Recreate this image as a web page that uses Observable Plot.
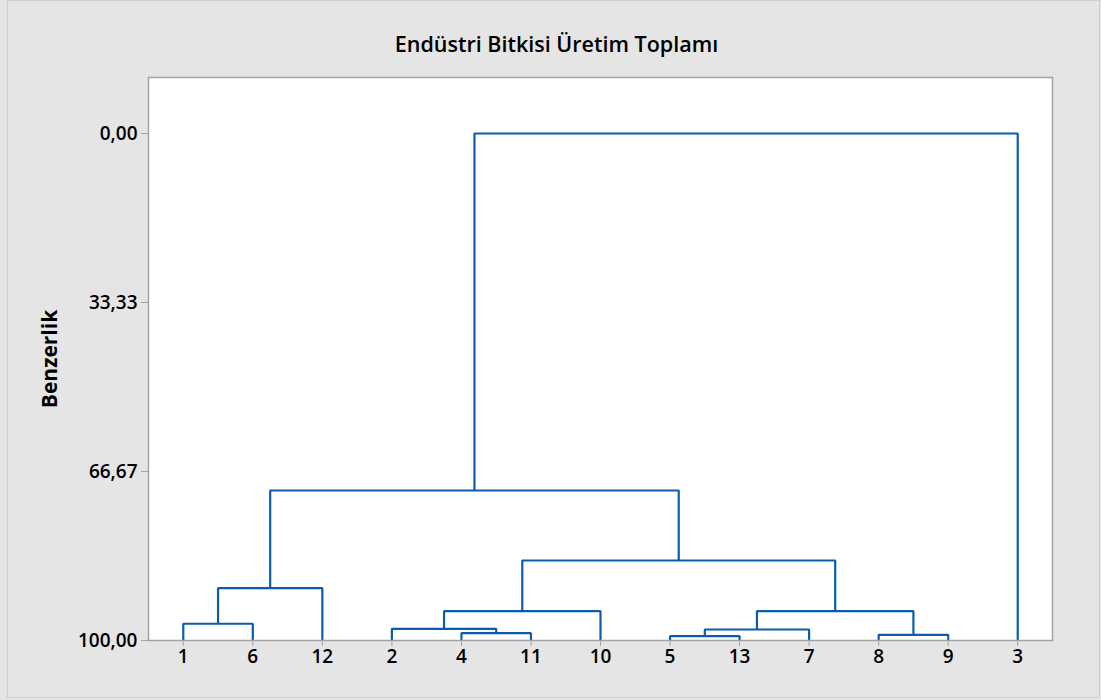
<!DOCTYPE html>
<html>
<head>
<meta charset="utf-8">
<script src="https://cdn.jsdelivr.net/npm/d3@7"></script>
<script src="https://cdn.jsdelivr.net/npm/@observablehq/plot@0.6"></script>
<style>
  html, body { margin: 0; padding: 0; background: #e5e5e5; }
  #chart { width: 1101px; height: 700px; position: relative; }
  svg { font-family: "Open Sans", "Noto Sans", sans-serif; }
</style>
</head>
<body>
<div id="chart"></div>
<script>
// ---- Data ----
const title = "Endüstri Bitkisi Üretim Toplamı";
const yLabel = "Benzerlik";
// leaf observations in dendrogram order (x axis tick labels)
const leaves = ["1", "6", "12", "2", "4", "11", "10", "5", "13", "7", "8", "9", "3"];
// merge steps: Ck = cluster made by step k
const mergeLeft  = ["5",  "8",  "4",  "C0", "2",  "1",  "C4", "C3", "C5", "C6", "C8", "C10"];
const mergeRight = ["13", "9",  "11", "7",  "C2", "6",  "10", "C1", "12", "C7", "C9", "3"];
const mergeSimilarity = [99.15, 98.88, 98.56, 97.83, 97.69, 96.70, 94.22, 94.22, 89.68, 84.22, 70.41, 0.00];
// y ticks
const yTickValues = [0, 33.33, 66.67, 100];
const yTickLabels = ["0,00", "33,33", "66,67", "100,00"];

// ---- Build dendrogram paths ----
const nodes = new Map();
leaves.forEach((l, i) => nodes.set(l, {x: i, h: 100}));
const paths = [];
mergeLeft.forEach((a, k) => {
  const L = nodes.get(a), R = nodes.get(mergeRight[k]);
  const h = mergeSimilarity[k];
  paths.push({k, x: L.x, y: L.h}, {k, x: L.x, y: h}, {k, x: R.x, y: h}, {k, x: R.x, y: R.h});
  nodes.set("C" + k, {x: (L.x + R.x) / 2, h});
});

const blue = "#0b5cad";
const gray = "#a3a3a3";

const chart = Plot.plot({
  width: 1101,
  height: 700,
  marginLeft: 148,
  marginRight: 49,
  marginTop: 77,
  marginBottom: 60,
  style: {background: "transparent", fontFamily: "'Open Sans', sans-serif"},
  x: {domain: [-0.5, leaves.length - 0.5], axis: null},
  y: {domain: [-11.05, 100], reverse: true, axis: null},
  marks: [
    Plot.frame({fill: "white", stroke: "none"}),
    Plot.line(paths, {x: "x", y: "y", z: "k", stroke: blue, strokeWidth: 2.2, strokeLinejoin: "miter", strokeLinecap: "butt"}),
    Plot.frame({stroke: gray, strokeWidth: 1.5}),
    Plot.axisY({ticks: yTickValues, tickFormat: (d, i) => yTickLabels[i], tickSize: 7, tickPadding: 4,
      stroke: gray, fontSize: 19, fontWeight: 600, fill: "black", label: null}),
    Plot.axisX({ticks: d3.range(leaves.length), tickFormat: i => leaves[i], tickSize: 6, tickPadding: 3,
      stroke: gray, fontSize: 19, fontWeight: 600, fill: "black", label: null}),
    Plot.text([yLabel], {frameAnchor: "left", dx: -98, rotate: -90, text: d => d,
      textAnchor: "middle", lineAnchor: "middle",
      fontSize: 21, fontWeight: 700, fill: "black"}),
    Plot.text([title], {frameAnchor: "top", dx: -44, dy: -32.5, text: d => d,
      textAnchor: "middle", lineAnchor: "middle",
      fontSize: 21.5, fontWeight: 600, fill: "black"})
  ]
});

// outer border
const svg = d3.select(chart);
svg.insert("rect", ":first-child")
  .attr("x", 7.5).attr("y", 0.5).attr("width", 1092).attr("height", 697)
  .attr("fill", "#e5e5e5").attr("stroke", "#cfcfcf");

document.getElementById("chart").appendChild(chart);
</script>
</body>
</html>
